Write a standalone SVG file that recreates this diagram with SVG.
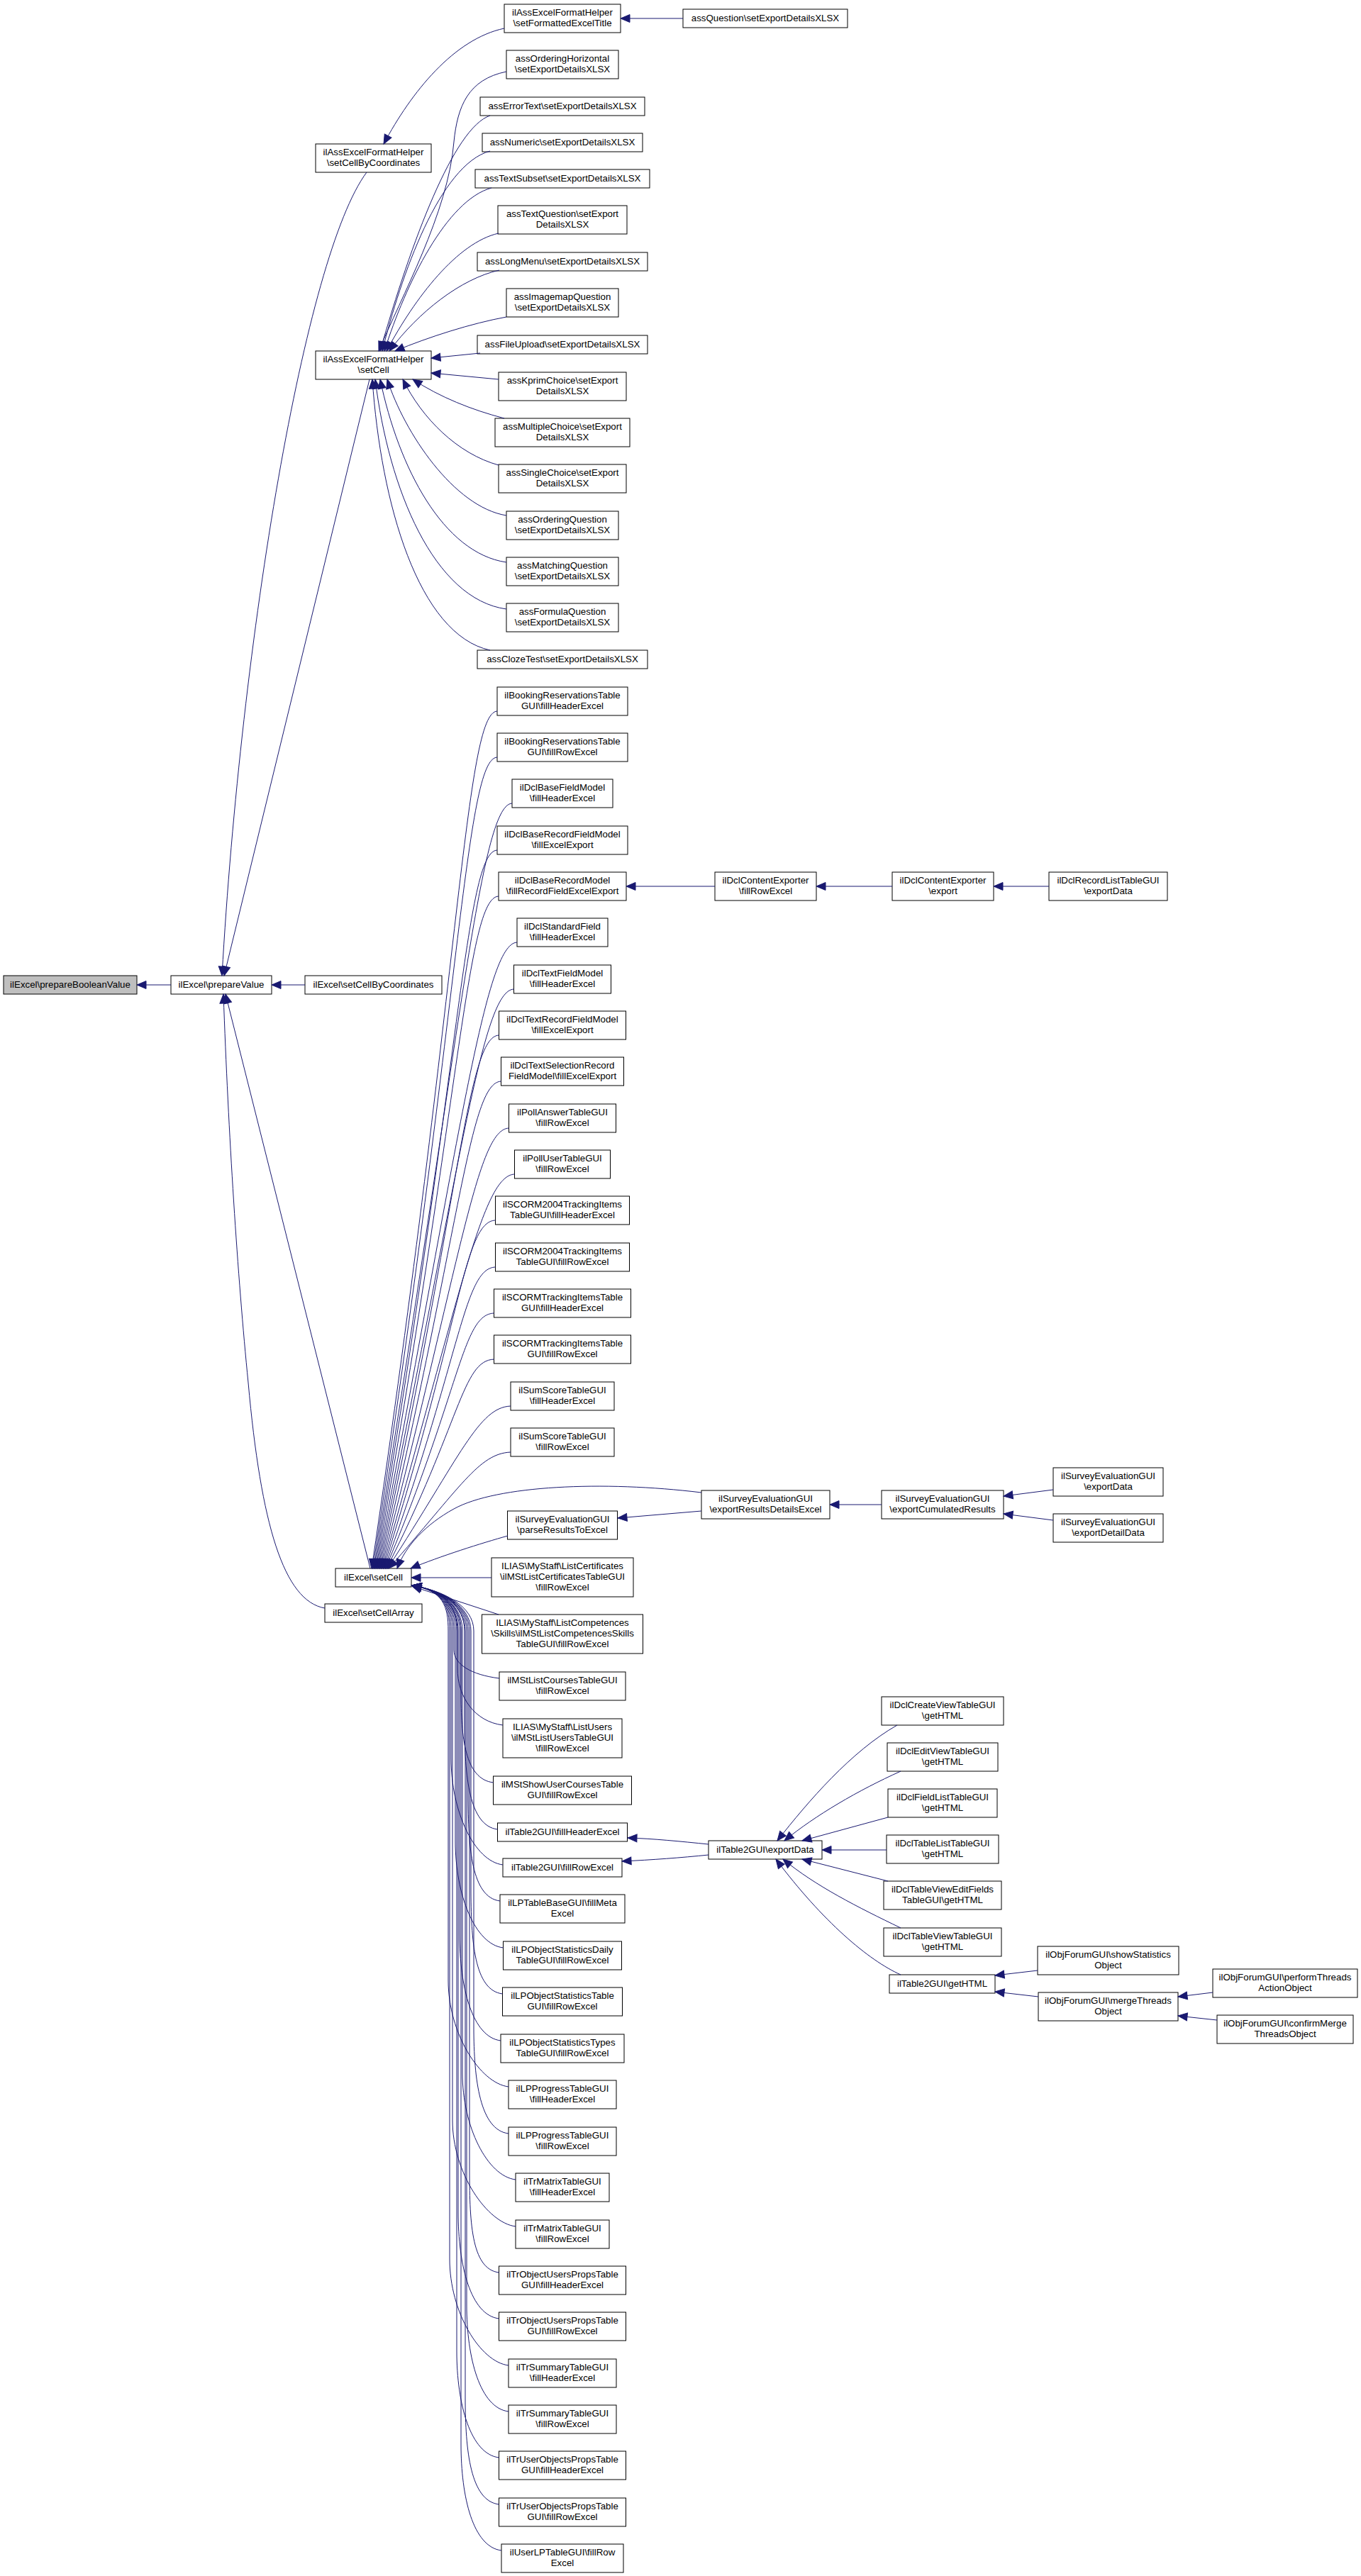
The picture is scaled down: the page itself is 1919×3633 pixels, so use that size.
<svg xmlns="http://www.w3.org/2000/svg" width="1919" height="3633" viewBox="0 0 1919 3633">
<defs>
<style>
.n rect{fill:#ffffff;stroke:#000000;stroke-width:1}
.root rect{fill:#bfbfbf}
text{font-family:"Liberation Sans",Arial,Helvetica,sans-serif;font-size:13.3px;text-anchor:middle;fill:#000000}
.e path{fill:none;stroke:#191970;stroke-width:1;marker-end:url(#ah)}
</style>
<marker id="ah" markerUnits="userSpaceOnUse" markerWidth="14" markerHeight="12" refX="13" refY="5.5" orient="auto" overflow="visible"><path d="M0,0L13,5.5L0,11z" fill="#191970" stroke="#191970" stroke-width="1"/></marker>
</defs>
<rect width="1919" height="3633" fill="#ffffff"/>

<g id="nodes">
<g id="n_pbv" class="n root"><rect x="5" y="1376" width="188" height="26"/><text x="99" y="1392.5">ilExcel\prepareBooleanValue</text></g>
<g id="n_pv" class="n"><rect x="241" y="1376" width="142" height="26"/><text x="312" y="1392.5">ilExcel\prepareValue</text></g>
<g id="n_scbc" class="n"><rect x="430" y="1376" width="193" height="26"/><text x="526.5" y="1392.5">ilExcel\setCellByCoordinates</text></g>
<g id="n_ascbc" class="n"><rect x="445" y="203" width="163" height="40"/><text x="526.5" y="219">ilAssExcelFormatHelper<tspan x="526.5" dy="15">\setCellByCoordinates</tspan></text></g>
<g id="n_asc" class="n"><rect x="445" y="495" width="163" height="40"/><text x="526.5" y="511">ilAssExcelFormatHelper<tspan x="526.5" dy="15">\setCell</tspan></text></g>
<g id="n_sc" class="n"><rect x="473" y="2212" width="107" height="26"/><text x="526.5" y="2228.5">ilExcel\setCell</text></g>
<g id="n_sca" class="n"><rect x="458" y="2262" width="137" height="26"/><text x="526.5" y="2278.5">ilExcel\setCellArray</text></g>

<g id="n_sfet" class="n"><rect x="711" y="6" width="164" height="40"/><text x="793" y="22">ilAssExcelFormatHelper<tspan x="793" dy="15">\setFormattedExcelTitle</tspan></text></g>
<g id="n_aq" class="n"><rect x="963" y="13" width="232" height="26"/><text x="1079" y="29.5">assQuestion\setExportDetailsXLSX</text></g>
<g id="n_aoh" class="n"><rect x="714" y="71" width="158" height="40"/><text x="793" y="87">assOrderingHorizontal<tspan x="793" dy="15">\setExportDetailsXLSX</tspan></text></g>
<g id="n_aet" class="n"><rect x="677" y="137" width="232" height="26"/><text x="793" y="153.5">assErrorText\setExportDetailsXLSX</text></g>
<g id="n_anu" class="n"><rect x="680" y="188" width="226" height="26"/><text x="793" y="204.5">assNumeric\setExportDetailsXLSX</text></g>
<g id="n_ats" class="n"><rect x="670" y="239" width="246" height="26"/><text x="793" y="255.5">assTextSubset\setExportDetailsXLSX</text></g>
<g id="n_atq" class="n"><rect x="702" y="290" width="182" height="40"/><text x="793" y="306">assTextQuestion\setExport<tspan x="793" dy="15">DetailsXLSX</tspan></text></g>
<g id="n_alm" class="n"><rect x="673" y="356" width="240" height="26"/><text x="793" y="372.5">assLongMenu\setExportDetailsXLSX</text></g>
<g id="n_aim" class="n"><rect x="714" y="407" width="158" height="40"/><text x="793" y="423">assImagemapQuestion<tspan x="793" dy="15">\setExportDetailsXLSX</tspan></text></g>
<g id="n_afu" class="n"><rect x="673" y="473" width="240" height="26"/><text x="793" y="489.5">assFileUpload\setExportDetailsXLSX</text></g>
<g id="n_akc" class="n"><rect x="703" y="525" width="180" height="40"/><text x="793" y="541">assKprimChoice\setExport<tspan x="793" dy="15">DetailsXLSX</tspan></text></g>
<g id="n_amc" class="n"><rect x="698" y="590" width="190" height="40"/><text x="793" y="606">assMultipleChoice\setExport<tspan x="793" dy="15">DetailsXLSX</tspan></text></g>
<g id="n_asch" class="n"><rect x="703" y="655" width="180" height="40"/><text x="793" y="671">assSingleChoice\setExport<tspan x="793" dy="15">DetailsXLSX</tspan></text></g>
<g id="n_aoq" class="n"><rect x="714" y="721" width="158" height="40"/><text x="793" y="737">assOrderingQuestion<tspan x="793" dy="15">\setExportDetailsXLSX</tspan></text></g>
<g id="n_amq" class="n"><rect x="714" y="786" width="158" height="40"/><text x="793" y="802">assMatchingQuestion<tspan x="793" dy="15">\setExportDetailsXLSX</tspan></text></g>
<g id="n_afq" class="n"><rect x="714" y="851" width="158" height="40"/><text x="793" y="867">assFormulaQuestion<tspan x="793" dy="15">\setExportDetailsXLSX</tspan></text></g>
<g id="n_act" class="n"><rect x="673" y="917" width="240" height="26"/><text x="793" y="933.5">assClozeTest\setExportDetailsXLSX</text></g>

<g id="n_brh" class="n"><rect x="701" y="969" width="184" height="40"/><text x="793" y="985">ilBookingReservationsTable<tspan x="793" dy="15">GUI\fillHeaderExcel</tspan></text></g>
<g id="n_brr" class="n"><rect x="701" y="1034" width="184" height="40"/><text x="793" y="1050">ilBookingReservationsTable<tspan x="793" dy="15">GUI\fillRowExcel</tspan></text></g>
<g id="n_dbfm" class="n"><rect x="722" y="1099" width="142" height="40"/><text x="793" y="1115">ilDclBaseFieldModel<tspan x="793" dy="15">\fillHeaderExcel</tspan></text></g>
<g id="n_dbrfm" class="n"><rect x="701" y="1165" width="184" height="40"/><text x="793" y="1181">ilDclBaseRecordFieldModel<tspan x="793" dy="15">\fillExcelExport</tspan></text></g>
<g id="n_dbrm" class="n"><rect x="703" y="1230" width="180" height="40"/><text x="793" y="1246">ilDclBaseRecordModel<tspan x="793" dy="15">\fillRecordFieldExcelExport</tspan></text></g>
<g id="n_dsf" class="n"><rect x="729" y="1295" width="128" height="40"/><text x="793" y="1311">ilDclStandardField<tspan x="793" dy="15">\fillHeaderExcel</tspan></text></g>
<g id="n_dtfm" class="n"><rect x="724.5" y="1361" width="137" height="40"/><text x="793" y="1377">ilDclTextFieldModel<tspan x="793" dy="15">\fillHeaderExcel</tspan></text></g>
<g id="n_dtrfm" class="n"><rect x="703.5" y="1426" width="179" height="40"/><text x="793" y="1442">ilDclTextRecordFieldModel<tspan x="793" dy="15">\fillExcelExport</tspan></text></g>
<g id="n_dtsr" class="n"><rect x="706.5" y="1491" width="173" height="40"/><text x="793" y="1507">ilDclTextSelectionRecord<tspan x="793" dy="15">FieldModel\fillExcelExport</tspan></text></g>
<g id="n_pat" class="n"><rect x="717.5" y="1557" width="151" height="40"/><text x="793" y="1573">ilPollAnswerTableGUI<tspan x="793" dy="15">\fillRowExcel</tspan></text></g>
<g id="n_put" class="n"><rect x="725.5" y="1622" width="135" height="40"/><text x="793" y="1638">ilPollUserTableGUI<tspan x="793" dy="15">\fillRowExcel</tspan></text></g>
<g id="n_s04h" class="n"><rect x="698.5" y="1687" width="189" height="40"/><text x="793" y="1703">ilSCORM2004TrackingItems<tspan x="793" dy="15">TableGUI\fillHeaderExcel</tspan></text></g>
<g id="n_s04r" class="n"><rect x="698.5" y="1753" width="189" height="40"/><text x="793" y="1769">ilSCORM2004TrackingItems<tspan x="793" dy="15">TableGUI\fillRowExcel</tspan></text></g>
<g id="n_sch" class="n"><rect x="696.5" y="1818" width="193" height="40"/><text x="793" y="1834">ilSCORMTrackingItemsTable<tspan x="793" dy="15">GUI\fillHeaderExcel</tspan></text></g>
<g id="n_scr" class="n"><rect x="696.5" y="1883" width="193" height="40"/><text x="793" y="1899">ilSCORMTrackingItemsTable<tspan x="793" dy="15">GUI\fillRowExcel</tspan></text></g>
<g id="n_ssh" class="n"><rect x="720" y="1949" width="146" height="40"/><text x="793" y="1965">ilSumScoreTableGUI<tspan x="793" dy="15">\fillHeaderExcel</tspan></text></g>
<g id="n_ssr" class="n"><rect x="720" y="2014" width="146" height="40"/><text x="793" y="2030">ilSumScoreTableGUI<tspan x="793" dy="15">\fillRowExcel</tspan></text></g>
<g id="n_prte" class="n"><rect x="715.5" y="2131" width="155" height="40"/><text x="793" y="2147">ilSurveyEvaluationGUI<tspan x="793" dy="15">\parseResultsToExcel</tspan></text></g>
<g id="n_mlc" class="n"><rect x="693" y="2197" width="200" height="55"/><text x="793" y="2213">ILIAS\MyStaff\ListCertificates<tspan x="793" dy="15">\ilMStListCertificatesTableGUI</tspan><tspan x="793" dy="15">\fillRowExcel</tspan></text></g>
<g id="n_mlcs" class="n"><rect x="679.5" y="2277" width="227" height="55"/><text x="793" y="2293">ILIAS\MyStaff\ListCompetences<tspan x="793" dy="15">\Skills\ilMStListCompetencesSkills</tspan><tspan x="793" dy="15">TableGUI\fillRowExcel</tspan></text></g>
<g id="n_mlco" class="n"><rect x="704" y="2358" width="178" height="40"/><text x="793" y="2374">ilMStListCoursesTableGUI<tspan x="793" dy="15">\fillRowExcel</tspan></text></g>
<g id="n_mlu" class="n"><rect x="709" y="2424" width="168" height="55"/><text x="793" y="2440">ILIAS\MyStaff\ListUsers<tspan x="793" dy="15">\ilMStListUsersTableGUI</tspan><tspan x="793" dy="15">\fillRowExcel</tspan></text></g>
<g id="n_msuc" class="n"><rect x="695.5" y="2505" width="195" height="40"/><text x="793" y="2521">ilMStShowUserCoursesTable<tspan x="793" dy="15">GUI\fillRowExcel</tspan></text></g>
<g id="n_t2fh" class="n"><rect x="701.5" y="2571" width="183" height="26"/><text x="793" y="2587.5">ilTable2GUI\fillHeaderExcel</text></g>
<g id="n_t2fr" class="n"><rect x="709" y="2621" width="168" height="26"/><text x="793" y="2637.5">ilTable2GUI\fillRowExcel</text></g>
<g id="n_lptb" class="n"><rect x="705" y="2672" width="176" height="40"/><text x="793" y="2688">ilLPTableBaseGUI\fillMeta<tspan x="793" dy="15">Excel</tspan></text></g>
<g id="n_lposd" class="n"><rect x="709.5" y="2738" width="167" height="40"/><text x="793" y="2754">ilLPObjectStatisticsDaily<tspan x="793" dy="15">TableGUI\fillRowExcel</tspan></text></g>
<g id="n_lpost" class="n"><rect x="708.5" y="2803" width="169" height="40"/><text x="793" y="2819">ilLPObjectStatisticsTable<tspan x="793" dy="15">GUI\fillRowExcel</tspan></text></g>
<g id="n_lposty" class="n"><rect x="706" y="2869" width="174" height="40"/><text x="793" y="2885">ilLPObjectStatisticsTypes<tspan x="793" dy="15">TableGUI\fillRowExcel</tspan></text></g>
<g id="n_lpph" class="n"><rect x="717" y="2934" width="152" height="40"/><text x="793" y="2950">ilLPProgressTableGUI<tspan x="793" dy="15">\fillHeaderExcel</tspan></text></g>
<g id="n_lppr" class="n"><rect x="717" y="3000" width="152" height="40"/><text x="793" y="3016">ilLPProgressTableGUI<tspan x="793" dy="15">\fillRowExcel</tspan></text></g>
<g id="n_trmh" class="n"><rect x="727" y="3065" width="132" height="40"/><text x="793" y="3081">ilTrMatrixTableGUI<tspan x="793" dy="15">\fillHeaderExcel</tspan></text></g>
<g id="n_trmr" class="n"><rect x="727" y="3131" width="132" height="40"/><text x="793" y="3147">ilTrMatrixTableGUI<tspan x="793" dy="15">\fillRowExcel</tspan></text></g>
<g id="n_trouh" class="n"><rect x="703.5" y="3196" width="179" height="40"/><text x="793" y="3212">ilTrObjectUsersPropsTable<tspan x="793" dy="15">GUI\fillHeaderExcel</tspan></text></g>
<g id="n_trour" class="n"><rect x="703.5" y="3261" width="179" height="40"/><text x="793" y="3277">ilTrObjectUsersPropsTable<tspan x="793" dy="15">GUI\fillRowExcel</tspan></text></g>
<g id="n_trsh" class="n"><rect x="717" y="3327" width="152" height="40"/><text x="793" y="3343">ilTrSummaryTableGUI<tspan x="793" dy="15">\fillHeaderExcel</tspan></text></g>
<g id="n_trsr" class="n"><rect x="717" y="3392" width="152" height="40"/><text x="793" y="3408">ilTrSummaryTableGUI<tspan x="793" dy="15">\fillRowExcel</tspan></text></g>
<g id="n_truoh" class="n"><rect x="703.5" y="3457" width="179" height="40"/><text x="793" y="3473">ilTrUserObjectsPropsTable<tspan x="793" dy="15">GUI\fillHeaderExcel</tspan></text></g>
<g id="n_truor" class="n"><rect x="703.5" y="3523" width="179" height="40"/><text x="793" y="3539">ilTrUserObjectsPropsTable<tspan x="793" dy="15">GUI\fillRowExcel</tspan></text></g>
<g id="n_ulp" class="n"><rect x="707" y="3588" width="172" height="40"/><text x="793" y="3604">ilUserLPTableGUI\fillRow<tspan x="793" dy="15">Excel</tspan></text></g>

<g id="n_dcer" class="n"><rect x="1008" y="1230" width="143" height="40"/><text x="1079.5" y="1246">ilDclContentExporter<tspan x="1079.5" dy="15">\fillRowExcel</tspan></text></g>
<g id="n_dcee" class="n"><rect x="1258" y="1230" width="143" height="40"/><text x="1329.5" y="1246">ilDclContentExporter<tspan x="1329.5" dy="15">\export</tspan></text></g>
<g id="n_drlt" class="n"><rect x="1479" y="1230" width="167" height="40"/><text x="1562.5" y="1246">ilDclRecordListTableGUI<tspan x="1562.5" dy="15">\exportData</tspan></text></g>

<g id="n_sred" class="n"><rect x="989" y="2102" width="181" height="40"/><text x="1079.5" y="2118">ilSurveyEvaluationGUI<tspan x="1079.5" dy="15">\exportResultsDetailsExcel</tspan></text></g>
<g id="n_secr" class="n"><rect x="1243" y="2102" width="172" height="40"/><text x="1329" y="2118">ilSurveyEvaluationGUI<tspan x="1329" dy="15">\exportCumulatedResults</tspan></text></g>
<g id="n_sed" class="n"><rect x="1485" y="2070" width="155" height="40"/><text x="1562.5" y="2086">ilSurveyEvaluationGUI<tspan x="1562.5" dy="15">\exportData</tspan></text></g>
<g id="n_sedd" class="n"><rect x="1485" y="2135" width="155" height="40"/><text x="1562.5" y="2151">ilSurveyEvaluationGUI<tspan x="1562.5" dy="15">\exportDetailData</tspan></text></g>

<g id="n_t2ed" class="n"><rect x="999" y="2596" width="160" height="26"/><text x="1079" y="2612.5">ilTable2GUI\exportData</text></g>
<g id="n_dcv" class="n"><rect x="1243" y="2393" width="172" height="40"/><text x="1329" y="2409">ilDclCreateViewTableGUI<tspan x="1329" dy="15">\getHTML</tspan></text></g>
<g id="n_dev" class="n"><rect x="1251" y="2458" width="156" height="40"/><text x="1329" y="2474">ilDclEditViewTableGUI<tspan x="1329" dy="15">\getHTML</tspan></text></g>
<g id="n_dfl" class="n"><rect x="1252" y="2523" width="154" height="40"/><text x="1329" y="2539">ilDclFieldListTableGUI<tspan x="1329" dy="15">\getHTML</tspan></text></g>
<g id="n_dtl" class="n"><rect x="1250" y="2588" width="158" height="40"/><text x="1329" y="2604">ilDclTableListTableGUI<tspan x="1329" dy="15">\getHTML</tspan></text></g>
<g id="n_dtvef" class="n"><rect x="1246" y="2653" width="166" height="40"/><text x="1329" y="2669">ilDclTableViewEditFields<tspan x="1329" dy="15">TableGUI\getHTML</tspan></text></g>
<g id="n_dtv" class="n"><rect x="1246" y="2719" width="166" height="40"/><text x="1329" y="2735">ilDclTableViewTableGUI<tspan x="1329" dy="15">\getHTML</tspan></text></g>
<g id="n_t2gh" class="n"><rect x="1254" y="2785" width="149" height="26"/><text x="1328.5" y="2801.5">ilTable2GUI\getHTML</text></g>
<g id="n_ofss" class="n"><rect x="1463" y="2745" width="199" height="40"/><text x="1562.5" y="2761">ilObjForumGUI\showStatistics<tspan x="1562.5" dy="15">Object</tspan></text></g>
<g id="n_ofmt" class="n"><rect x="1464" y="2810" width="197" height="40"/><text x="1562.5" y="2826">ilObjForumGUI\mergeThreads<tspan x="1562.5" dy="15">Object</tspan></text></g>
<g id="n_ofpt" class="n"><rect x="1710" y="2777" width="204" height="40"/><text x="1812" y="2793">ilObjForumGUI\performThreads<tspan x="1812" dy="15">ActionObject</tspan></text></g>
<g id="n_ofcm" class="n"><rect x="1716" y="2842" width="192" height="40"/><text x="1812" y="2858">ilObjForumGUI\confirmMerge<tspan x="1812" dy="15">ThreadsObject</tspan></text></g>
</g>

<g id="edges" class="e">
<path d="M241,1389L193,1389"/>
<path d="M430,1389L383,1389"/>
<path d="M517,243C430,360 340,900 313,1376"/>
<path d="M521,535L316,1376"/>
<path d="M522,2212L318,1402"/>
<path d="M458,2268C400,2258 368,2150 350,1950C335,1800 322,1600 315,1402"/>
<path d="M711,40C640,55 580,130 541,203"/>
<path d="M963,26L875,26"/>

<path d="M714,101C660,112 645,150 640,200C632,300 565,420 534,495"/>
<path d="M691,163C640,180 580,340 536,495"/>
<path d="M691,213C620,232 565,390 539,495"/>
<path d="M693,265C630,282 572,400 542,495"/>
<path d="M703,329C645,342 585,420 545,495"/>
<path d="M704,381C650,393 590,440 549,495"/>
<path d="M714,447C665,456 605,475 557,495"/>
<path d="M677,498L608,505"/>
<path d="M703,535L608,526"/>
<path d="M711,590C665,578 620,560 582,535"/>
<path d="M703,656C645,640 595,590 568,535"/>
<path d="M714,727C640,715 570,610 546,535"/>
<path d="M714,793C625,780 562,660 536,535"/>
<path d="M714,859C612,845 548,690 529,535"/>
<path d="M691,917C590,895 537,710 525,535"/>

<path d="M701,1003C656,1005 650,1366 524,2212"/>
<path d="M701,1068C656,1070 650,1411 525.5,2212"/>
<path d="M722,1133C677,1135 650,1457 527,2212"/>
<path d="M701,1199C656,1201 650,1503 528.5,2212"/>
<path d="M703,1264C658,1266 650,1548 530,2212"/>
<path d="M729,1329C684,1331 650,1594 531.5,2212"/>
<path d="M724.5,1395C679.5,1397 650,1640 533,2212"/>
<path d="M703.5,1460C658.5,1462 650,1686 534.5,2212"/>
<path d="M706.5,1525C661.5,1527 650,1731 536,2212"/>
<path d="M717.5,1591C672.5,1593 650,1777 537.5,2212"/>
<path d="M725.5,1656C680.5,1658 650,1823 539,2212"/>
<path d="M698.5,1721C653.5,1723 650,1868 540.5,2212"/>
<path d="M698.5,1787C653.5,1789 650,1915 542,2212"/>
<path d="M696.5,1852C651.5,1854 650,1960 543.5,2212"/>
<path d="M696.5,1917C651.5,1919 650,2006 545,2212"/>
<path d="M720,1983C675,1985 650,2052 546.5,2212"/>
<path d="M720,2048C675,2050 650,2097 548,2212"/>
<path d="M989,2105C850,2088 700,2095 640,2128C600,2150 572,2180 560,2212"/>
<path d="M716,2166C680,2176 620,2195 579,2212"/>
<path d="M693,2225L580,2225"/>
<path d="M703,2277L581,2237"/>

<path d="M704,2367C664,2362 640,2347 640,2327L640,2300C640,2265 625,2243 581,2236"/>
<path d="M709,2433C669,2428 645,2393 645,2353L645,2300C645,2265 625,2243 581,2236"/>
<path d="M695.5,2514C655.5,2509 650,2450 650,2386L650,2300C650,2265 625,2243 581,2236"/>
<path d="M701.5,2580C661.5,2575 655,2505 655,2430L655,2300C655,2265 625,2243 581,2236"/>
<path d="M709,2630C669,2625 636,2555 636,2480L636,2300C636,2265 625,2243 581,2236"/>
<path d="M705,2681C665,2676 660,2606 660,2531L660,2300C660,2265 625,2243 581,2236"/>
<path d="M709.5,2747C669.5,2742 642,2672 642,2597L642,2300C642,2265 625,2243 581,2236"/>
<path d="M708.5,2812C668.5,2807 664,2737 664,2662L664,2300C664,2265 625,2243 581,2236"/>
<path d="M706,2878C666,2873 648,2803 648,2728L648,2300C648,2265 625,2243 581,2236"/>
<path d="M717,2943C677,2938 632,2868 632,2793L632,2300C632,2265 625,2243 581,2236"/>
<path d="M717,3009C677,3004 668,2934 668,2859L668,2300C668,2265 625,2243 581,2236"/>
<path d="M727,3074C687,3069 652,2999 652,2924L652,2300C652,2265 625,2243 581,2236"/>
<path d="M727,3140C687,3135 638,3065 638,2990L638,2300C638,2265 625,2243 581,2236"/>
<path d="M703.5,3205C663.5,3200 662,3130 662,3055L662,2300C662,2265 625,2243 581,2236"/>
<path d="M703.5,3270C663.5,3265 646,3195 646,3120L646,2300C646,2265 625,2243 581,2236"/>
<path d="M717,3336C677,3331 634,3261 634,3186L634,2300C634,2265 625,2243 581,2236"/>
<path d="M717,3401C677,3396 658,3326 658,3251L658,2300C658,2265 625,2243 581,2236"/>
<path d="M703.5,3466C663.5,3461 644,3391 644,3316L644,2300C644,2265 625,2243 581,2236"/>
<path d="M703.5,3532C663.5,3527 656,3457 656,3382L656,2300C656,2265 625,2243 581,2236"/>
<path d="M707,3597C667,3592 650,3522 650,3447L650,2300C650,2265 625,2243 581,2236"/>

<path d="M1008,1250L883,1250"/>
<path d="M1258,1250L1151,1250"/>
<path d="M1479,1250L1401,1250"/>

<path d="M989,2131L871,2141"/>
<path d="M1243,2122L1170,2122"/>
<path d="M1485,2101L1415,2110"/>
<path d="M1485,2144L1415,2135"/>

<path d="M999,2601C960,2597 920,2593 885,2592"/>
<path d="M999,2616C960,2620 920,2623 877,2625"/>
<path d="M1265,2433C1200,2470 1140,2540 1096,2596"/>
<path d="M1270,2498C1210,2525 1150,2560 1106,2596"/>
<path d="M1252,2563L1131,2596"/>
<path d="M1250,2609L1159,2609"/>
<path d="M1252,2653L1131,2622"/>
<path d="M1270,2719C1210,2690 1150,2660 1104,2622"/>
<path d="M1270,2785C1225,2765 1160,2710 1094,2622"/>
<path d="M1463,2779L1403,2786"/>
<path d="M1464,2816L1403,2809"/>
<path d="M1710,2810L1661,2816"/>
<path d="M1716,2849L1661,2843"/>
</g>
</svg>
